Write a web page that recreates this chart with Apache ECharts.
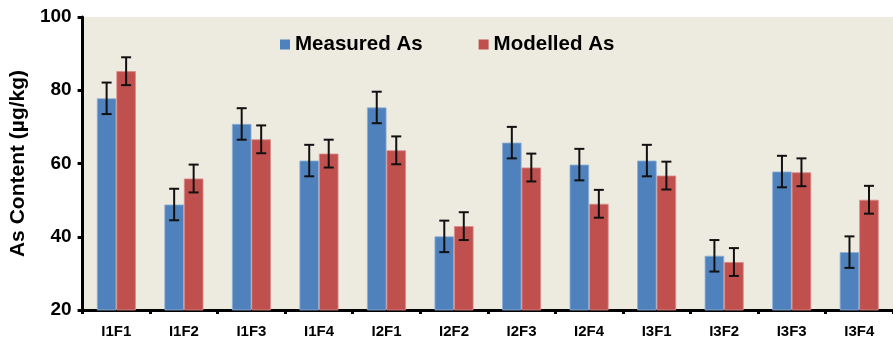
<!DOCTYPE html>
<html>
<head>
<meta charset="utf-8">
<script src="https://cdn.jsdelivr.net/npm/echarts@6/dist/echarts.min.js"></script>
<style>
  html, body { margin: 0; padding: 0; background: #ffffff; }
  #chart { width: 893px; height: 343px; }
</style>
</head>
<body>
<div id="chart"></div>
<script>
// Sample treatments
const categories = ['I1F1', 'I1F2', 'I1F3', 'I1F4', 'I2F1', 'I2F2', 'I2F3', 'I2F4', 'I3F1', 'I3F2', 'I3F3', 'I3F4'];

// Arsenic content, µg/kg
const measured = [77.8, 48.8, 70.8, 60.8, 75.3, 40.1, 65.7, 59.7, 60.8, 34.8, 57.8, 35.8];
const modelled = [85.2, 55.9, 66.6, 62.7, 63.6, 42.9, 58.9, 49.0, 56.7, 33.1, 57.6, 50.1];

// Error bar half-lengths
const measuredErr = [4.3, 4.3, 4.3, 4.3, 4.3, 4.3, 4.3, 4.3, 4.3, 4.3, 4.3, 4.3];
const modelledErr = [3.8, 3.8, 3.8, 3.8, 3.8, 3.8, 3.8, 3.8, 3.8, 3.8, 3.8, 3.8];

const yTicks = [20, 40, 60, 80, 100];

const BAR_W = 19.5;
const FONT = '"Liberation Sans", Arial, sans-serif';

function errorSeries(values, errs, side) {
  return {
    type: 'custom',
    silent: true,
    z: 5,
    data: values.map((v, i) => [i, v, errs[i]]),
    renderItem: function (params, api) {
      const i = api.value(0), v = api.value(1), e = api.value(2);
      const hi = api.coord([i, v + e]);
      const lo = api.coord([i, v - e]);
      const x = hi[0] + side * BAR_W / 2;
      const cap = 5;
      const style = { stroke: '#111111', lineWidth: 2 };
      return {
        type: 'group',
        children: [
          { type: 'line', shape: { x1: x, y1: hi[1], x2: x, y2: lo[1] }, style },
          { type: 'line', shape: { x1: x - cap, y1: hi[1], x2: x + cap, y2: hi[1] }, style },
          { type: 'line', shape: { x1: x - cap, y1: lo[1], x2: x + cap, y2: lo[1] }, style }
        ]
      };
    }
  };
}

const chart = echarts.init(document.getElementById('chart'), null, { renderer: 'canvas' });

chart.setOption({
  animation: false,
  backgroundColor: '#ffffff',
  grid: {
    left: 82, right: -8, top: 17, bottom: 33,
    show: true, backgroundColor: '#EDEADF', borderWidth: 0
  },
  legend: {
    top: 29, left: 275,
    itemGap: 56,
    itemWidth: 10, itemHeight: 10,
    icon: 'rect',
    itemStyle: { borderWidth: 0 },
    textStyle: { fontFamily: FONT, fontWeight: 'bold', fontSize: 20.5, color: '#000' },
    data: ['Measured As', 'Modelled As']
  },
  xAxis: {
    type: 'category',
    data: categories,
    axisLine: { show: true, lineStyle: { color: '#000', width: 3 } },
    axisTick: { show: true, inside: false, length: 4, lineStyle: { color: '#000', width: 3 } },
    axisLabel: { fontFamily: FONT, fontWeight: 'bold', fontSize: 15, color: '#000', margin: 14 }
  },
  yAxis: {
    type: 'value',
    min: yTicks[0], max: yTicks[yTicks.length - 1], interval: 20,
    name: 'As Content (µg/kg)',
    nameLocation: 'middle',
    nameGap: 46,
    nameTextStyle: { fontFamily: FONT, fontWeight: 'bold', fontSize: 21, color: '#000' },
    axisLine: { show: true, lineStyle: { color: '#000', width: 3 } },
    axisTick: { show: true, inside: false, length: 5, lineStyle: { color: '#000', width: 3 } },
    splitLine: { show: false },
    axisLabel: { fontFamily: FONT, fontWeight: 'bold', fontSize: 19, color: '#000', margin: 11 }
  },
  series: [
    {
      name: 'Measured As', type: 'bar', data: measured,
      barWidth: BAR_W, barGap: '0%',
      itemStyle: { color: '#4F81BD', borderColor: '#8FB0D8', borderWidth: 0.8 }
    },
    {
      name: 'Modelled As', type: 'bar', data: modelled,
      barWidth: BAR_W, barGap: '0%',
      itemStyle: { color: '#C0504D', borderColor: '#D98C8A', borderWidth: 0.8 }
    },
    errorSeries(measured, measuredErr, -1),
    errorSeries(modelled, modelledErr, 1)
  ]
});
</script>
</body>
</html>
